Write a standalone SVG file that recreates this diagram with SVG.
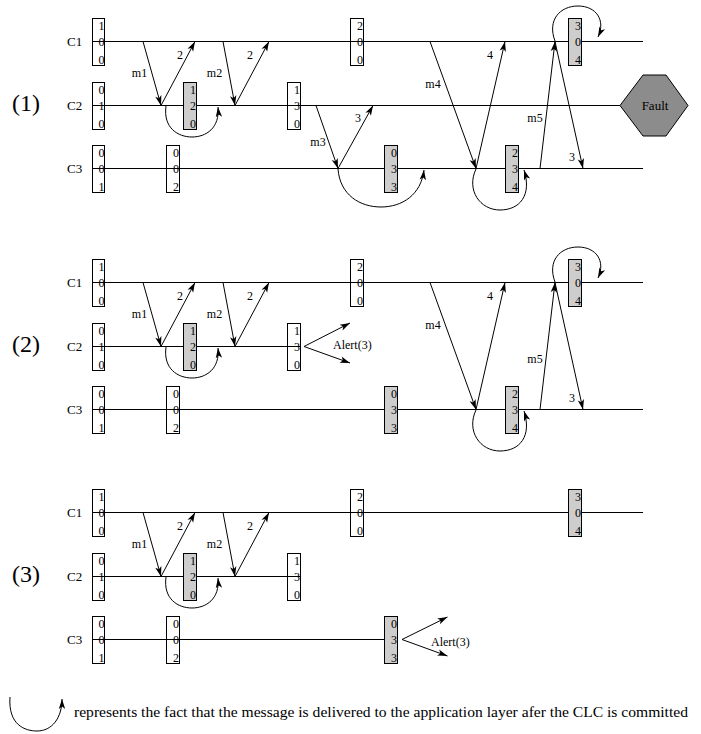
<svg xmlns="http://www.w3.org/2000/svg" width="701" height="734" viewBox="0 0 701 734" font-family="'Liberation Serif', 'Times New Roman', serif">
<style>
.tl{stroke:#000;stroke-width:1;fill:none}
.bx{fill:none;stroke:#000;stroke-width:1}
.gb{fill:#cdcdcd;stroke:#000;stroke-width:1}
.ar{stroke:#000;stroke-width:1;fill:none;marker-end:url(#ah)}
.t{font-size:12px;fill:#000}
.d{font-size:12px;fill:#000;text-anchor:end}
.c{font-size:13px;fill:#000}
.p{font-size:24px;fill:#000}
.m{text-anchor:middle}
</style>
<defs>
<marker id="ah" viewBox="-11 -4 12 8" refX="0" refY="0" markerWidth="12" markerHeight="8" markerUnits="userSpaceOnUse" orient="auto">
<path d="M0,0 L-10,-3.2 L-7.5,0 L-10,3.2 z" fill="#000"/>
</marker>
</defs>

<!-- ================= PANEL 1 ================= -->
<g id="panel1" font-family="'Liberation Serif', 'Times New Roman', serif">
<text class="p" x="12" y="111">(1)</text>
<text class="c" x="67" y="46">C1</text>
<text class="c" x="67" y="110">C2</text>
<text class="c" x="67" y="173">C3</text>
<g id="p1-timelines">
<path class="tl" d="M92.5,41.5 H643"/>
<path class="tl" d="M92.5,105.5 H620"/>
<path class="tl" d="M92.5,168.5 H643"/>
</g>
<g id="p1-c1-b1"><rect class="bx" x="92.5" y="18.5" width="12" height="47"/><text class="d" x="104.5" y="30">1</text><text class="d" x="104.5" y="46">0</text><text class="d" x="104.5" y="63.5">0</text></g>
<g id="p1-c1-b2"><rect class="bx" x="350.5" y="18.5" width="13" height="47"/><text class="d" x="363" y="30">2</text><text class="d" x="363" y="46">0</text><text class="d" x="363" y="63.5">0</text></g>
<g id="p1-c1-b3"><rect class="gb" x="568.5" y="18.5" width="13" height="47"/><text class="d" x="581" y="30">3</text><text class="d" x="581" y="46">0</text><text class="d" x="581" y="63.5">4</text></g>
<g id="p1-c2-b1"><rect class="bx" x="92.5" y="82.5" width="12" height="47"/><text class="d" x="104.5" y="94">0</text><text class="d" x="104.5" y="110">1</text><text class="d" x="104.5" y="127.5">0</text></g>
<g id="p1-c2-b2"><rect class="gb" x="183.5" y="82.5" width="13" height="47"/><text class="d" x="196" y="94">1</text><text class="d" x="196" y="110">2</text><text class="d" x="196" y="127.5">0</text></g>
<g id="p1-c2-b3"><rect class="bx" x="287.5" y="82.5" width="13" height="47"/><text class="d" x="300" y="94">1</text><text class="d" x="300" y="110">3</text><text class="d" x="300" y="127.5">0</text></g>
<g id="p1-c3-b1"><rect class="bx" x="92.5" y="145.5" width="12" height="47"/><text class="d" x="104.5" y="157">0</text><text class="d" x="104.5" y="173">0</text><text class="d" x="104.5" y="190.5">1</text></g>
<g id="p1-c3-b2"><rect class="bx" x="166.5" y="145.5" width="13" height="47"/><text class="d" x="179" y="157">0</text><text class="d" x="179" y="173">0</text><text class="d" x="179" y="190.5">2</text></g>
<g id="p1-c3-b3"><rect class="gb" x="384.5" y="145.5" width="13" height="47"/><text class="d" x="397" y="157">0</text><text class="d" x="397" y="173">3</text><text class="d" x="397" y="190.5">3</text></g>
<g id="p1-c3-b4"><rect class="gb" x="505.5" y="145.5" width="13" height="47"/><text class="d" x="518" y="157">2</text><text class="d" x="518" y="173">3</text><text class="d" x="518" y="190.5">4</text></g>
<g id="p1-fault"><polygon points="620,105.5 643,75 666,75 688,105.5 666,136 643,136" fill="#8c8c8c" stroke="#000" stroke-width="1"/><text class="c m" x="655" y="110">Fault</text></g>
<g id="p1-connectors">
<path class="ar" d="M143,41.5 L161,105.5"/>
<path class="ar" d="M161,105.5 L195,41.5"/>
<path class="ar" d="M223,41.5 L235,105.5"/>
<path class="ar" d="M235,105.5 L269,41.5"/>
<path class="ar" d="M316,105.5 L338,168.5"/>
<path class="ar" d="M338,168.5 L373,105.5"/>
<path class="ar" d="M430,41.5 L476,168.5"/>
<path class="ar" d="M476,168.5 L505,41.5"/>
<path class="ar" d="M540,168.5 L555,41.5"/>
<path class="ar" d="M555,41.5 L583,168.5"/>
<path class="ar" d="M166,106 C163,128 178,137 192,137 C206,137 220,128 218,107"/>
<path class="ar" d="M338,169 C340,195 360,207 381,207 C402,207 421,195 424,170"/>
<path class="ar" d="M476,169 C466,190 480,210 500,210 C520,210 532,195 524,170"/>
<path class="ar" d="M555,41 C547,20 560,6 578,6 C596,6 606,20 598,37"/>
<text class="t m" x="139.5" y="77">m1</text>
<text class="t m" x="180" y="59">2</text>
<text class="t m" x="214.5" y="77">m2</text>
<text class="t m" x="250" y="59">2</text>
<text class="t m" x="318" y="146">m3</text>
<text class="t m" x="358" y="122">3</text>
<text class="t m" x="433" y="88">m4</text>
<text class="t m" x="490" y="59">4</text>
<text class="t m" x="535" y="122">m5</text>
<text class="t m" x="572" y="161">3</text>
</g>
</g>

<!-- ================= PANEL 2 ================= -->
<g id="panel2" transform="translate(0,241)" font-family="'Liberation Serif', 'Times New Roman', serif">
<text class="p" x="12" y="111">(2)</text>
<text class="c" x="67" y="46">C1</text>
<text class="c" x="67" y="110">C2</text>
<text class="c" x="67" y="173">C3</text>
<g id="p2-timelines">
<path class="tl" d="M92.5,41.5 H643"/>
<path class="tl" d="M92.5,105.5 H300.5"/>
<path class="tl" d="M92.5,168.5 H643"/>
</g>
<g id="p2-c1-b1"><rect class="bx" x="92.5" y="18.5" width="12" height="47"/><text class="d" x="104.5" y="30">1</text><text class="d" x="104.5" y="46">0</text><text class="d" x="104.5" y="63.5">0</text></g>
<g id="p2-c1-b2"><rect class="bx" x="350.5" y="18.5" width="13" height="47"/><text class="d" x="363" y="30">2</text><text class="d" x="363" y="46">0</text><text class="d" x="363" y="63.5">0</text></g>
<g id="p2-c1-b3"><rect class="gb" x="568.5" y="18.5" width="13" height="47"/><text class="d" x="581" y="30">3</text><text class="d" x="581" y="46">0</text><text class="d" x="581" y="63.5">4</text></g>
<g id="p2-c2-b1"><rect class="bx" x="92.5" y="82.5" width="12" height="47"/><text class="d" x="104.5" y="94">0</text><text class="d" x="104.5" y="110">1</text><text class="d" x="104.5" y="127.5">0</text></g>
<g id="p2-c2-b2"><rect class="gb" x="183.5" y="82.5" width="13" height="47"/><text class="d" x="196" y="94">1</text><text class="d" x="196" y="110">2</text><text class="d" x="196" y="127.5">0</text></g>
<g id="p2-c2-b3"><rect class="bx" x="287.5" y="82.5" width="13" height="47"/><text class="d" x="300" y="94">1</text><text class="d" x="300" y="110">3</text><text class="d" x="300" y="127.5">0</text></g>
<g id="p2-c3-b1"><rect class="bx" x="92.5" y="145.5" width="12" height="47"/><text class="d" x="104.5" y="157">0</text><text class="d" x="104.5" y="173">0</text><text class="d" x="104.5" y="190.5">1</text></g>
<g id="p2-c3-b2"><rect class="bx" x="166.5" y="145.5" width="13" height="47"/><text class="d" x="179" y="157">0</text><text class="d" x="179" y="173">0</text><text class="d" x="179" y="190.5">2</text></g>
<g id="p2-c3-b3"><rect class="gb" x="384.5" y="145.5" width="13" height="47"/><text class="d" x="397" y="157">0</text><text class="d" x="397" y="173">3</text><text class="d" x="397" y="190.5">3</text></g>
<g id="p2-c3-b4"><rect class="gb" x="505.5" y="145.5" width="13" height="47"/><text class="d" x="518" y="157">2</text><text class="d" x="518" y="173">3</text><text class="d" x="518" y="190.5">4</text></g>
<g id="p2-connectors">
<path class="ar" d="M143,41.5 L161,105.5"/>
<path class="ar" d="M161,105.5 L195,41.5"/>
<path class="ar" d="M223,41.5 L235,105.5"/>
<path class="ar" d="M235,105.5 L269,41.5"/>
<path class="ar" d="M304,105.5 L350,82"/>
<path class="ar" d="M304,105.5 L350,122"/>
<path class="ar" d="M430,41.5 L476,168.5"/>
<path class="ar" d="M476,168.5 L505,41.5"/>
<path class="ar" d="M540,168.5 L555,41.5"/>
<path class="ar" d="M555,41.5 L583,168.5"/>
<path class="ar" d="M166,106 C163,128 178,137 192,137 C206,137 220,128 218,107"/>
<path class="ar" d="M476,169 C466,190 480,210 500,210 C520,210 532,195 524,170"/>
<path class="ar" d="M555,41 C547,20 560,6 578,6 C596,6 606,20 598,37"/>
<text class="t m" x="139.5" y="77">m1</text>
<text class="t m" x="180" y="59">2</text>
<text class="t m" x="214.5" y="77">m2</text>
<text class="t m" x="250" y="59">2</text>
<text class="t" x="333" y="108">Alert(3)</text>
<text class="t m" x="433" y="88">m4</text>
<text class="t m" x="490" y="59">4</text>
<text class="t m" x="535" y="122">m5</text>
<text class="t m" x="572" y="161">3</text>
</g>
</g>

<!-- ================= PANEL 3 ================= -->
<g id="panel3" transform="translate(0,471)" font-family="'Liberation Serif', 'Times New Roman', serif">
<text class="p" x="12" y="111">(3)</text>
<text class="c" x="67" y="46">C1</text>
<text class="c" x="67" y="110">C2</text>
<text class="c" x="67" y="173">C3</text>
<g id="p3-timelines">
<path class="tl" d="M92.5,41.5 H643"/>
<path class="tl" d="M92.5,105.5 H300.5"/>
<path class="tl" d="M92.5,168.5 H385"/>
</g>
<g id="p3-c1-b1"><rect class="bx" x="92.5" y="18.5" width="12" height="47"/><text class="d" x="104.5" y="30">1</text><text class="d" x="104.5" y="46">0</text><text class="d" x="104.5" y="63.5">0</text></g>
<g id="p3-c1-b2"><rect class="bx" x="350.5" y="18.5" width="13" height="47"/><text class="d" x="363" y="30">2</text><text class="d" x="363" y="46">0</text><text class="d" x="363" y="63.5">0</text></g>
<g id="p3-c1-b3"><rect class="gb" x="568.5" y="18.5" width="13" height="47"/><text class="d" x="581" y="30">3</text><text class="d" x="581" y="46">0</text><text class="d" x="581" y="63.5">4</text></g>
<g id="p3-c2-b1"><rect class="bx" x="92.5" y="82.5" width="12" height="47"/><text class="d" x="104.5" y="94">0</text><text class="d" x="104.5" y="110">1</text><text class="d" x="104.5" y="127.5">0</text></g>
<g id="p3-c2-b2"><rect class="gb" x="183.5" y="82.5" width="13" height="47"/><text class="d" x="196" y="94">1</text><text class="d" x="196" y="110">2</text><text class="d" x="196" y="127.5">0</text></g>
<g id="p3-c2-b3"><rect class="bx" x="287.5" y="82.5" width="13" height="47"/><text class="d" x="300" y="94">1</text><text class="d" x="300" y="110">3</text><text class="d" x="300" y="127.5">0</text></g>
<g id="p3-c3-b1"><rect class="bx" x="92.5" y="145.5" width="12" height="47"/><text class="d" x="104.5" y="157">0</text><text class="d" x="104.5" y="173">0</text><text class="d" x="104.5" y="190.5">1</text></g>
<g id="p3-c3-b2"><rect class="bx" x="166.5" y="145.5" width="13" height="47"/><text class="d" x="179" y="157">0</text><text class="d" x="179" y="173">0</text><text class="d" x="179" y="190.5">2</text></g>
<g id="p3-c3-b3"><rect class="gb" x="384.5" y="145.5" width="13" height="47"/><text class="d" x="397" y="157">0</text><text class="d" x="397" y="173">3</text><text class="d" x="397" y="190.5">3</text></g>
<g id="p3-connectors">
<path class="ar" d="M143,41.5 L161,105.5"/>
<path class="ar" d="M161,105.5 L195,41.5"/>
<path class="ar" d="M223,41.5 L235,105.5"/>
<path class="ar" d="M235,105.5 L269,41.5"/>
<path class="ar" d="M166,106 C163,128 178,137 192,137 C206,137 220,128 218,107"/>
<path class="ar" d="M402,168.5 L447.5,146"/>
<path class="ar" d="M402,168.5 L447.5,185"/>
<text class="t m" x="139.5" y="77">m1</text>
<text class="t m" x="180" y="59">2</text>
<text class="t m" x="214.5" y="77">m2</text>
<text class="t m" x="250" y="59">2</text>
<text class="t" x="431" y="175">Alert(3)</text>
</g>
</g>

<!-- ================= LEGEND ================= -->
<g id="legend" font-family="'Liberation Serif', 'Times New Roman', serif">
<path class="ar" d="M10,697 C8,725 25,731 37,731 C52,731 62,718 62,699"/>
<text x="74" y="717" font-size="15.6" fill="#000">represents the fact that the message is delivered to the application layer afer the CLC is committed</text>
</g>
</svg>
